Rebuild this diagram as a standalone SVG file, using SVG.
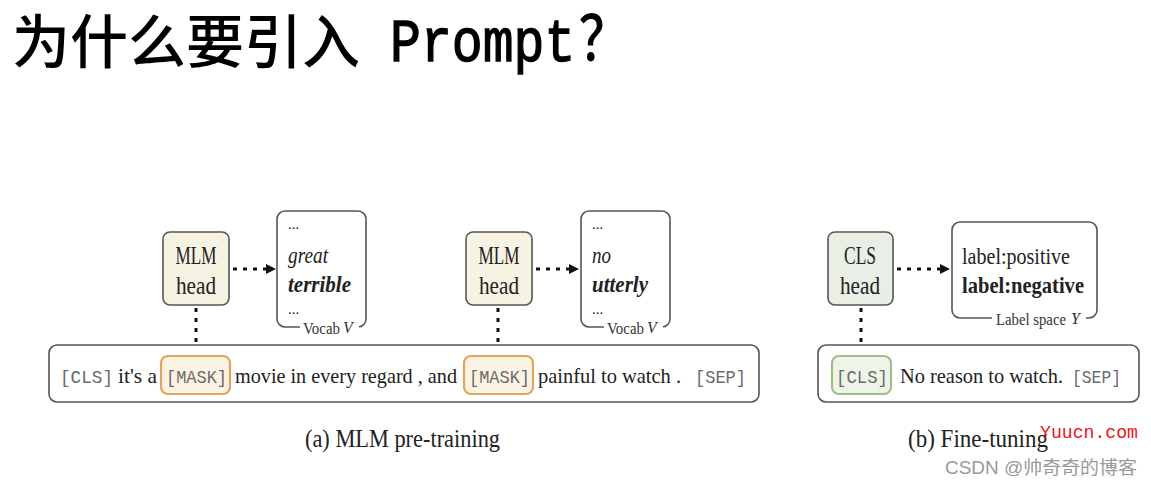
<svg xmlns="http://www.w3.org/2000/svg" width="1151" height="486" viewBox="0 0 1151 486">
<style>
.box{stroke:#555;stroke-width:1.6;fill:#fff}
.head{stroke:#555;stroke-width:1.6;fill:#f7f3e3}
.clshead{stroke:#555;stroke-width:1.6;fill:#e9efe4}
.mask{stroke:#e0a464;stroke-width:2.2;fill:#fdf3e3}
.clsbox{stroke:#9cc08a;stroke-width:2.2;fill:#eef4e8}
.dot{stroke:#111;stroke-width:3;fill:none;stroke-dasharray:4 6}
.ah{fill:#111}
.s{font-family:"Liberation Serif",serif;fill:#222}
.m{font-family:"Liberation Mono",monospace;fill:#6a6a6a}
.hd{font-family:"Liberation Serif",serif;font-size:25px;fill:#222;text-anchor:middle}
.w{font-family:"Liberation Serif",serif;font-size:23px;fill:#222}
.el{font-family:"Liberation Serif",serif;font-size:15px;fill:#222}
.lab{font-family:"Liberation Serif",serif;font-size:16px;fill:#333}
.cap{font-family:"Liberation Serif",serif;font-size:25px;fill:#222}
</style>
<rect width="1151" height="486" fill="#fff"/>
<g id="title">
<text x="12" y="63" font-family="Noto Sans CJK SC, sans-serif" font-size="58" font-weight="500" fill="#000">为什么要引入</text>
<text transform="translate(390,61) scale(0.83,1)" font-family="Liberation Mono, monospace" font-size="62" fill="#000" stroke="#000" stroke-width="1.4">Prompt<tspan font-family="Noto Sans CJK SC, sans-serif" font-size="62" font-weight="500" stroke-width="0" dx="4">？</tspan></text>
</g>
<g id="connectors">
<line class="dot" x1="233" y1="269" x2="268" y2="269"/>
<path class="ah" d="M266,264 L276,269 L266,274 Z"/>
<line class="dot" x1="536" y1="269" x2="571" y2="269"/>
<path class="ah" d="M569,264 L579,269 L569,274 Z"/>
<line class="dot" x1="897" y1="269" x2="941" y2="269"/>
<path class="ah" d="M940,264 L950,269 L940,274 Z"/>
<line class="dot" x1="196" y1="308" x2="196" y2="358"/>
<line class="dot" x1="498" y1="308" x2="498" y2="358"/>
<line class="dot" x1="861" y1="308" x2="861" y2="358"/>
</g>
<g id="sentence-a">
<rect class="box" x="49" y="345" width="710" height="57" rx="8"/>
<rect class="mask" x="161" y="356" width="69" height="38" rx="7"/>
<rect class="mask" x="464" y="356" width="69" height="38" rx="7"/>
<text class="m" x="60" y="383" font-size="19" textLength="53" lengthAdjust="spacingAndGlyphs">[CLS]</text>
<text class="s" x="118" y="383" font-size="22" textLength="39" lengthAdjust="spacingAndGlyphs">it's a</text>
<text class="m" x="166" y="383" font-size="19" textLength="61" lengthAdjust="spacingAndGlyphs">[MASK]</text>
<text class="s" x="235" y="383" font-size="22" textLength="222" lengthAdjust="spacingAndGlyphs">movie in every regard , and</text>
<text class="m" x="469" y="383" font-size="19" textLength="61" lengthAdjust="spacingAndGlyphs">[MASK]</text>
<text class="s" x="538" y="383" font-size="22" textLength="143" lengthAdjust="spacingAndGlyphs">painful to watch .</text>
<text class="m" x="695" y="383" font-size="19" textLength="51" lengthAdjust="spacingAndGlyphs">[SEP]</text>
</g>
<g id="mlm-head-1">
<rect class="head" x="163" y="232" width="66" height="73" rx="7"/>
<text class="hd" x="196" y="264" textLength="41" lengthAdjust="spacingAndGlyphs">MLM</text>
<text class="hd" x="196" y="294" textLength="40" lengthAdjust="spacingAndGlyphs">head</text>
</g>
<g id="vocab-1">
<rect class="box" x="277" y="211" width="89" height="116" rx="8"/>
<rect x="300" y="320" width="59" height="12" fill="#fff"/>
<text class="el" x="288" y="229">...</text>
<text class="w" x="288" y="263" font-style="italic" textLength="40" lengthAdjust="spacingAndGlyphs">great</text>
<text class="w" x="288" y="292" font-style="italic" font-weight="bold" textLength="63" lengthAdjust="spacingAndGlyphs">terrible</text>
<text class="el" x="288" y="314">...</text>
<text class="lab" x="303" y="334" textLength="37" lengthAdjust="spacingAndGlyphs">Vocab</text>
<text class="lab" x="343" y="333" font-size="18" font-style="italic">V</text>
</g>
<g id="mlm-head-2">
<rect class="head" x="466" y="232" width="66" height="73" rx="7"/>
<text class="hd" x="499" y="264" textLength="41" lengthAdjust="spacingAndGlyphs">MLM</text>
<text class="hd" x="499" y="294" textLength="40" lengthAdjust="spacingAndGlyphs">head</text>
</g>
<g id="vocab-2">
<rect class="box" x="581" y="211" width="89" height="116" rx="8"/>
<rect x="604" y="320" width="59" height="12" fill="#fff"/>
<text class="el" x="592" y="229">...</text>
<text class="w" x="592" y="263" font-style="italic" textLength="19" lengthAdjust="spacingAndGlyphs">no</text>
<text class="w" x="592" y="292" font-style="italic" font-weight="bold" textLength="56" lengthAdjust="spacingAndGlyphs">utterly</text>
<text class="el" x="592" y="314">...</text>
<text class="lab" x="607" y="334" textLength="37" lengthAdjust="spacingAndGlyphs">Vocab</text>
<text class="lab" x="647" y="333" font-size="18" font-style="italic">V</text>
</g>
<g id="cls-head">
<rect class="clshead" x="828" y="232" width="65" height="73" rx="7"/>
<text class="hd" x="860" y="264" textLength="32" lengthAdjust="spacingAndGlyphs">CLS</text>
<text class="hd" x="860" y="294" textLength="40" lengthAdjust="spacingAndGlyphs">head</text>
</g>
<g id="label-space">
<rect class="box" x="952" y="222" width="145" height="96" rx="8"/>
<rect x="992" y="311" width="94" height="14" fill="#fff"/>
<text class="w" x="962" y="264" textLength="108" lengthAdjust="spacingAndGlyphs">label:positive</text>
<text class="w" x="962" y="293" font-weight="bold" textLength="122" lengthAdjust="spacingAndGlyphs">label:negative</text>
<text class="lab" x="996" y="325" textLength="70" lengthAdjust="spacingAndGlyphs">Label space</text>
<text class="lab" x="1071" y="324" font-size="19" font-style="italic">Y</text>
</g>
<g id="sentence-b">
<rect class="box" x="818" y="345" width="321" height="57" rx="8"/>
<rect class="clsbox" x="832" y="356" width="59" height="38" rx="7"/>
<text class="m" x="836" y="383" font-size="19" textLength="52" lengthAdjust="spacingAndGlyphs">[CLS]</text>
<text class="s" x="900" y="383" font-size="22" textLength="163" lengthAdjust="spacingAndGlyphs">No reason to watch.</text>
<text class="m" x="1072" y="383" font-size="19" textLength="49" lengthAdjust="spacingAndGlyphs">[SEP]</text>
</g>
<g id="captions">
<text class="cap" x="305" y="447" textLength="195" lengthAdjust="spacingAndGlyphs">(a) MLM pre-training</text>
<text class="cap" x="908" y="447" textLength="140" lengthAdjust="spacingAndGlyphs">(b) Fine-tuning</text>
</g>
<g id="watermark">
<text x="1040" y="438" font-family="Liberation Mono, monospace" font-size="18" fill="#e8141c" textLength="98" lengthAdjust="spacingAndGlyphs">Yuucn.com</text>
<text x="945" y="474" font-family="Liberation Sans, Noto Sans CJK SC, sans-serif" font-size="18" fill="#999" textLength="192" lengthAdjust="spacingAndGlyphs">CSDN @帅奇奇的博客</text>
</g>
</svg>
